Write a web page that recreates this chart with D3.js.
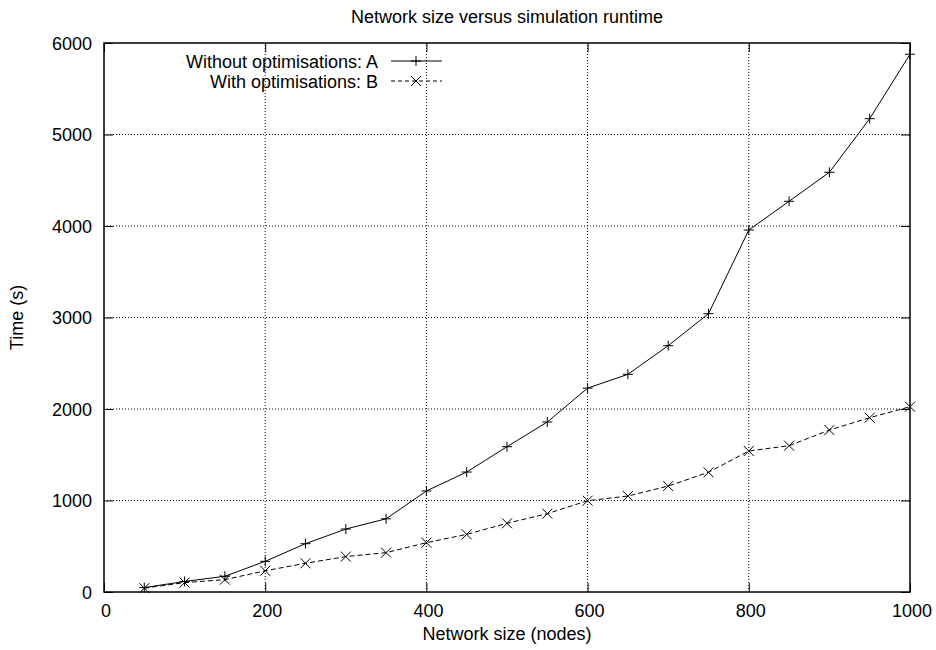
<!DOCTYPE html>
<html>
<head>
<meta charset="utf-8">
<script src="https://cdn.jsdelivr.net/npm/d3@7"></script>
<style>
  body { margin: 0; background: #fff; }
  text { font-family: "Liberation Sans", Arial, sans-serif; fill: #000; }
</style>
</head>
<body>
<div id="chart"></div>
<script>
// network sizes (nodes)
const sizes = [50, 100, 150, 200, 250, 300, 350, 400, 450, 500, 550, 600, 650, 700, 750, 800, 850, 900, 950, 1000];
// runtime in seconds
const withoutOpt = [48, 115, 172, 335, 528, 688, 800, 1104, 1311, 1588, 1858, 2228, 2379, 2692, 3042, 3956, 4270, 4587, 5173, 5877];
const withOpt = [42, 103, 135, 232, 314, 387, 430, 539, 630, 751, 856, 998, 1049, 1158, 1308, 1541, 1599, 1770, 1905, 2025];
const xTicks = [0, 200, 400, 600, 800, 1000];
const yTicks = [0, 1000, 2000, 3000, 4000, 5000, 6000];
const seriesNames = ["Without optimisations: A", "With optimisations: B"];

const width = 936, height = 650;
const margin = { top: 43, right: 26, bottom: 58, left: 104 };
const fontSize = "18px";

const svg = d3.select("#chart").append("svg")
  .attr("width", width)
  .attr("height", height);

const x = d3.scaleLinear().domain([0, 1000]).range([margin.left, width - margin.right]);
const y = d3.scaleLinear().domain([0, 6000]).range([height - margin.bottom, margin.top]);

const x0 = x.range()[0], x1 = x.range()[1];
const y0 = y.range()[0], y1 = y.range()[1];

// grid
svg.append("g").selectAll("line")
  .data(xTicks.slice(1, -1)).enter().append("line")
  .attr("x1", d => x(d)).attr("x2", d => x(d))
  .attr("y1", y0).attr("y2", y1)
  .attr("stroke", "#000").attr("stroke-width", 1)
  .attr("stroke-dasharray", "1,2");
svg.append("g").selectAll("line")
  .data(yTicks.slice(1, -1)).enter().append("line")
  .attr("x1", x0).attr("x2", x1)
  .attr("y1", d => y(d)).attr("y2", d => y(d))
  .attr("stroke", "#000").attr("stroke-width", 1)
  .attr("stroke-dasharray", "1,2");

// axes, gnuplot style ticks pointing inward on all sides
const tickLen = 9;
svg.append("g")
  .attr("transform", `translate(0,${y0})`)
  .call(d3.axisTop(x).tickValues(xTicks).tickSize(tickLen).tickFormat(""))
  .call(g => g.select(".domain").remove());
svg.append("g")
  .attr("transform", `translate(0,${y1})`)
  .call(d3.axisBottom(x).tickValues(xTicks).tickSize(tickLen).tickFormat(""))
  .call(g => g.select(".domain").remove());
svg.append("g")
  .attr("transform", `translate(${x0},0)`)
  .call(d3.axisRight(y).tickValues(yTicks).tickSize(tickLen).tickFormat(""))
  .call(g => g.select(".domain").remove());
svg.append("g")
  .attr("transform", `translate(${x1},0)`)
  .call(d3.axisLeft(y).tickValues(yTicks).tickSize(tickLen).tickFormat(""))
  .call(g => g.select(".domain").remove());

// tick labels
svg.append("g").selectAll("text")
  .data(xTicks).enter().append("text")
  .attr("x", d => x(d) + 2).attr("y", y0 + 25)
  .attr("text-anchor", "middle")
  .style("font-size", fontSize)
  .text(d => d);
svg.append("g").selectAll("text")
  .data(yTicks).enter().append("text")
  .attr("x", x0 - 12).attr("y", d => y(d) + 6.5)
  .attr("text-anchor", "end")
  .style("font-size", fontSize)
  .text(d => d);

// border
svg.append("rect")
  .attr("x", x0).attr("y", y1)
  .attr("width", x1 - x0).attr("height", y0 - y1)
  .attr("fill", "none").attr("stroke", "#000").attr("stroke-width", 1.5);

// lines
const line = d3.line()
  .x((d, i) => x(sizes[i]))
  .y(d => y(d));

svg.append("path").datum(withoutOpt)
  .attr("fill", "none").attr("stroke", "#000").attr("stroke-width", 1)
  .attr("d", line);
svg.append("path").datum(withOpt)
  .attr("fill", "none").attr("stroke", "#000").attr("stroke-width", 1)
  .attr("stroke-dasharray", "5,3")
  .attr("d", line);

// markers
const m = 5;
function plus(g, cx, cy) {
  g.append("path")
    .attr("d", `M${cx - m},${cy}H${cx + m}M${cx},${cy - m}V${cy + m}`)
    .attr("stroke", "#000").attr("stroke-width", 1).attr("fill", "none");
}
function cross(g, cx, cy) {
  g.append("path")
    .attr("d", `M${cx - m},${cy - m}L${cx + m},${cy + m}M${cx - m},${cy + m}L${cx + m},${cy - m}`)
    .attr("stroke", "#000").attr("stroke-width", 1).attr("fill", "none");
}
const marks = svg.append("g");
withoutOpt.forEach((d, i) => plus(marks, x(sizes[i]), y(d)));
withOpt.forEach((d, i) => cross(marks, x(sizes[i]), y(d)));

// legend
const legend = svg.append("g");
const lx = 378, ly = [61, 81];
seriesNames.forEach((name, i) => {
  legend.append("text")
    .attr("x", lx).attr("y", ly[i] + 6.5)
    .attr("text-anchor", "end")
    .style("font-size", fontSize)
    .text(name);
  legend.append("line")
    .attr("x1", lx + 13).attr("x2", lx + 64)
    .attr("y1", ly[i]).attr("y2", ly[i])
    .attr("stroke", "#000").attr("stroke-width", 1)
    .attr("stroke-dasharray", i === 1 ? "4,3" : null);
  if (i === 0) plus(legend, lx + 38, ly[i]);
  else cross(legend, lx + 38, ly[i]);
});

// titles
svg.append("text")
  .attr("x", (x0 + x1) / 2).attr("y", 23)
  .attr("text-anchor", "middle")
  .style("font-size", fontSize)
  .text("Network size versus simulation runtime");
svg.append("text")
  .attr("x", (x0 + x1) / 2).attr("y", 640)
  .attr("text-anchor", "middle")
  .style("font-size", fontSize)
  .text("Network size (nodes)");
svg.append("text")
  .attr("transform", `translate(23,${(y0 + y1) / 2}) rotate(-90)`)
  .attr("text-anchor", "middle")
  .style("font-size", fontSize)
  .text("Time (s)");
</script>
</body>
</html>
